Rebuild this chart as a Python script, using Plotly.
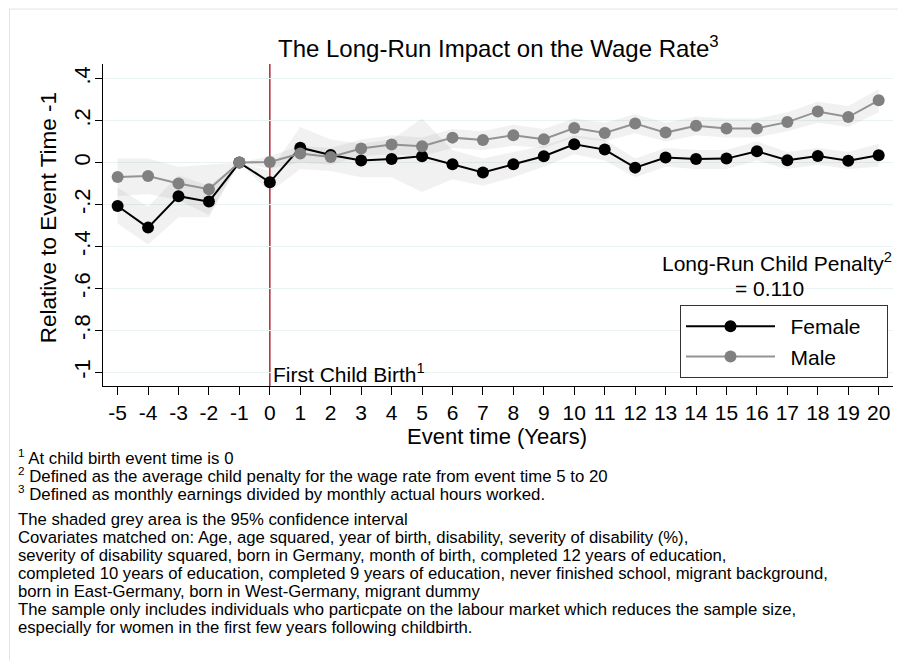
import plotly.graph_objects as go

# event time (years relative to first child birth)
event_time = list(range(-5, 21))
x_tick_text = [str(t) for t in event_time]

# coefficients relative to event time -1
female = [-0.207, -0.310, -0.160, -0.186, 0.000, -0.094, 0.071, 0.036, 0.010, 0.017,
          0.030, -0.008, -0.047, -0.008, 0.030, 0.087, 0.062, -0.024, 0.024, 0.017,
          0.019, 0.054, 0.011, 0.031, 0.009, 0.035]
male = [-0.069, -0.064, -0.100, -0.127, 0.000, 0.003, 0.043, 0.027, 0.067, 0.086,
        0.078, 0.119, 0.108, 0.130, 0.111, 0.165, 0.141, 0.186, 0.143, 0.176,
        0.162, 0.163, 0.193, 0.244, 0.217, 0.297]

# 95% confidence bands (lower / upper), estimated from the shading
female_lo = [-0.29, -0.39, -0.26, -0.26, 0.00, -0.14, -0.03, -0.04, -0.07, -0.07,
             -0.14, -0.08, -0.11, -0.07, -0.02, 0.04, 0.01, -0.07, -0.02, -0.03,
             -0.03, 0.01, -0.03, -0.01, -0.03, -0.02]
female_hi = [-0.12, -0.21, -0.06, -0.11, 0.00, -0.04, 0.17, 0.11, 0.09, 0.11,
             0.21, 0.06, 0.02, 0.05, 0.08, 0.13, 0.11, 0.02, 0.07, 0.06,
             0.06, 0.10, 0.05, 0.07, 0.05, 0.09]
male_lo = [-0.16, -0.15, -0.18, -0.25, 0.00, -0.03, 0.00, -0.01, 0.03, 0.04,
           0.03, 0.07, 0.06, 0.08, 0.07, 0.12, 0.10, 0.14, 0.10, 0.13,
           0.12, 0.12, 0.15, 0.19, 0.17, 0.24]
male_hi = [0.02, 0.02, -0.02, -0.01, 0.00, 0.03, 0.08, 0.07, 0.11, 0.13,
           0.12, 0.16, 0.15, 0.18, 0.16, 0.21, 0.19, 0.23, 0.19, 0.22,
           0.21, 0.21, 0.24, 0.29, 0.27, 0.35]

y_ticks = [-1, -0.8, -0.6, -0.4, -0.2, 0, 0.2, 0.4]
y_tick_text = ["-1", "-.8", "-.6", "-.4", "-.2", "0", ".2", ".4"]

penalty_text = "= 0.110"

footnotes = [
    "<sup>1</sup> At child birth event time is 0",
    "<sup>2</sup> Defined as the average child penalty for the wage rate from event time 5 to 20",
    "<sup>3</sup> Defined as monthly earnings divided by monthly actual hours worked.",
]
notes = [
    "The shaded grey area is the 95% confidence interval",
    "Covariates matched on: Age, age squared, year of birth, disability, severity of disability (%),",
    "severity of disability squared, born in Germany, month of birth, completed 12 years of education,",
    "completed 10 years of education, completed 9 years of education, never finished school, migrant background,",
    "born in East-Germany, born in West-Germany, migrant dummy",
    "The sample only includes individuals who particpate on the labour market which reduces the sample size,",
    "especially for women in the first few years following childbirth.",
]

FONT = "Liberation Sans, Arial, Helvetica, sans-serif"

# the page body adds an 8px margin, so the figure is drawn 8px in from the corner
OFF = 8
W, H = 906 - OFF, 661 - OFF
# plot area in screen pixels
L, R, T, B = 103, 893, 63.5, 386


def px_x(x):
    return (x - L) / (R - L)


def px_y(y):
    return (B - y) / (B - T)


fig = go.Figure()

# confidence bands
for lo, hi in [(female_lo, female_hi), (male_lo, male_hi)]:
    fig.add_trace(go.Scatter(
        x=event_time + event_time[::-1],
        y=hi + lo[::-1],
        fill="toself",
        fillcolor="rgba(128,128,128,0.11)",
        line=dict(width=0),
        hoverinfo="skip",
        showlegend=False,
    ))

# legend labels padded with wide spaces to match the roomier Stata legend box
fig.add_trace(go.Scatter(
    x=event_time, y=female, name="\u2002Female\u2003", mode="lines+markers",
    line=dict(color="black", width=2),
    marker=dict(color="black", size=12),
))
fig.add_trace(go.Scatter(
    x=event_time, y=male, name="\u2002Male", mode="lines+markers",
    line=dict(color="#939393", width=2),
    marker=dict(color="#808080", size=12),
))

# first child birth marker
fig.add_shape(type="line", x0=0, x1=0, y0=0, y1=1, xref="x", yref="paper",
              line=dict(color="#B5283A", width=1.5), layer="below")

# outer frame (top and left visible)
fig.add_shape(type="line", xref="paper", yref="paper",
              x0=px_x(9), x1=px_x(906), y0=px_y(8.5), y1=px_y(8.5),
              line=dict(color="#E3E3E3", width=1))
fig.add_shape(type="line", xref="paper", yref="paper",
              x0=px_x(9.5), x1=px_x(9.5), y0=px_y(8.5), y1=px_y(661),
              line=dict(color="#E3E3E3", width=1))

annotations = [
    dict(text="The Long-Run Impact on the Wage Rate<sup>3</sup>", x=px_x(498), y=px_y(46),
         xanchor="center", yanchor="middle", font=dict(size=24)),
    dict(text="Relative to Event Time -1", x=px_x(48), y=px_y(218), textangle=-90,
         xanchor="center", yanchor="middle", font=dict(size=22.5)),
    dict(text="Event time (Years)", x=px_x(497), y=px_y(437),
         xanchor="center", yanchor="middle", font=dict(size=22)),
    dict(text="Long-Run Child Penalty<sup>2</sup>", x=px_x(894), y=px_y(262),
         xanchor="right", yanchor="middle", font=dict(size=21)),
    dict(text=penalty_text, x=px_x(769), y=px_y(288),
         xanchor="center", yanchor="middle", font=dict(size=21)),
    dict(text="First Child Birth<sup>1</sup>", x=px_x(271), y=px_y(373),
         xanchor="left", yanchor="middle", font=dict(size=21)),
]
for i, line in enumerate(footnotes):
    annotations.append(dict(text=line, x=px_x(16), y=px_y(457 + 18 * i),
                            xanchor="left", yanchor="middle", font=dict(size=16.8)))
for i, line in enumerate(notes):
    annotations.append(dict(text=line, x=px_x(16), y=px_y(520 + 18 * i),
                            xanchor="left", yanchor="middle", font=dict(size=16.7)))
for a in annotations:
    a.update(xref="paper", yref="paper", showarrow=False)
    a["font"].update(family=FONT, color="black")

fig.update_layout(
    width=W, height=H,
    margin=dict(l=L - OFF, r=W - (R - OFF), t=T - OFF, b=H - (B - OFF)),
    paper_bgcolor="white", plot_bgcolor="white",
    font=dict(family=FONT, color="black", size=22),
    annotations=annotations,
    legend=dict(
        x=px_x(680), y=px_y(305), xanchor="left", yanchor="top",
        bgcolor="white", bordercolor="#333333", borderwidth=1,
        font=dict(size=21), itemwidth=89, tracegroupgap=0,
    ),
    xaxis=dict(
        range=[-5.48, 20.47], tickvals=event_time, ticktext=x_tick_text,
        ticks="outside", ticklen=8,
        tickcolor="black", showline=True, linecolor="black", linewidth=1,
        showgrid=False, zeroline=False, tickfont=dict(size=21),
    ),
    yaxis=dict(
        range=[-1.065, 0.47], tickvals=y_ticks, ticktext=y_tick_text,
        tickangle=-90, ticks="outside", ticklen=7, tickcolor="black",
        ticklabelstandoff=-4,
        showline=True, linecolor="black", linewidth=1,
        showgrid=True, gridcolor="#EAF2F3", gridwidth=1, zeroline=False,
        tickfont=dict(size=22),
    ),
)

fig.write_html("out.html")
